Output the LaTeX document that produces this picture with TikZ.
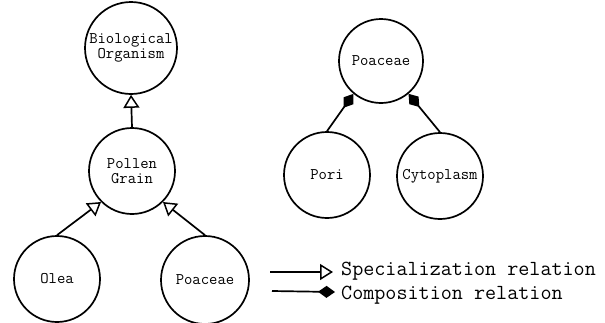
\documentclass[tikz,border=0pt]{standalone}
\usetikzlibrary{arrows.meta}
\begin{document}
\begin{tikzpicture}[x=1pt,y=-1pt,
  concept/.style={circle, draw=black, line width=1.7pt, minimum size=86pt,
    inner sep=0pt, align=center, font=\ttfamily\fontsize{16.2}{15}\selectfont},
  spec/.style={line width=1.7pt, -{Triangle[open, length=13pt, width=16pt, line width=1.5pt]}},
  comp/.style={line width=1.7pt, -{Diamond[length=17pt, width=12pt]}},
  legendtext/.style={anchor=west, inner sep=0pt, font=\ttfamily\fontsize{21.5}{22}\selectfont}]
\useasboundingbox (0,0) rectangle (605,322);

% generalisation hierarchy
\node[concept, minimum size=92pt] (bio) at (131,48) {Biological\\Organism};
\node[concept] (pollen) at (132,171) {Pollen\\Grain};
\node[concept] (olea) at (57,279) {Olea};
\node[concept, minimum size=88pt] (poa) at (205,280) {Poaceae};

\draw[spec] (pollen.north) -- (bio.south);
\draw[spec] (olea.north) -- (pollen.-135);
\draw[spec] (poa.north) -- (pollen.-45);

% composition of a grain
\node[concept, minimum size=84pt] (whole) at (381,61) {Poaceae};
\node[concept] (pori) at (327,175) {Pori};
\node[concept] (cyto) at (440,176) {Cytoplasm};

\draw[comp] (pori.north) -- (whole.-130);
\draw[comp] (cyto.north) -- (whole.-50);

% legend
\node[legendtext] (sl) at (341,271) {Specialization relation};
\node[legendtext] (cl) at (341,295) {Composition relation};
\coordinate (s0) at (270,272);
\coordinate (s1) at (333,272);
\coordinate (c0) at (272,291);
\coordinate (c1) at (335,292);
\draw[spec] (s0) -- (s1);
\draw[comp] (c0) -- (c1);
\end{tikzpicture}
\end{document}
